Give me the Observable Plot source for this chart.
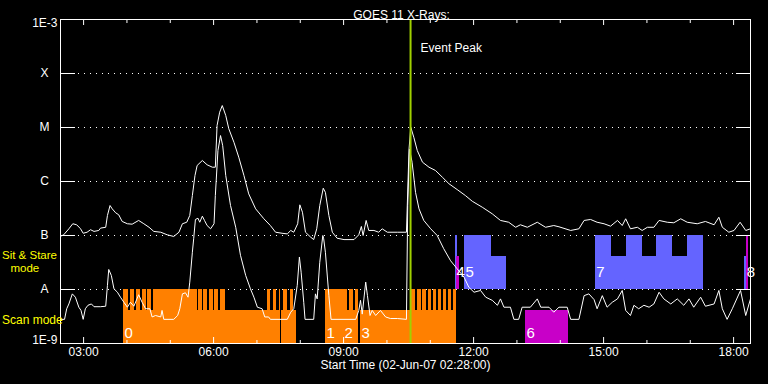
<!DOCTYPE html>
<html><head><meta charset="utf-8">
<script src="https://cdn.jsdelivr.net/npm/d3@7"></script>
<script src="https://cdn.jsdelivr.net/npm/@observablehq/plot@0.6"></script>
<style>html,body{margin:0;padding:0;background:#000;overflow:hidden}</style>
</head><body><div id="chart"></div>
<script>
// ---- data (hours UT, flux W/m^2) ----
const longChannel = [[2.47,9.7e-8],[2.54,1.03e-7],[2.66,1.33e-7],[2.75,1.65e-7],[2.84,1.58e-7],[2.93,1.33e-7],[2.99,1.10e-7],[3.08,1.15e-7],[3.16,1.28e-7],[3.24,1.19e-7],[3.35,1.24e-7],[3.39,1.37e-7],[3.51,1.42e-7],[3.55,2.35e-7],[3.61,3.59e-7],[3.66,3.12e-7],[3.74,2.63e-7],[3.81,2.42e-7],[3.89,1.82e-7],[4.01,1.65e-7],[4.12,1.62e-7],[4.27,1.90e-7],[4.39,1.65e-7],[4.51,1.42e-7],[4.62,1.19e-7],[4.78,1.15e-7],[4.93,1.03e-7],[5.08,9.6e-8],[5.20,1.15e-7],[5.28,1.65e-7],[5.38,1.76e-7],[5.45,2.35e-7],[5.51,5.5e-7],[5.57,1.29e-6],[5.62,1.98e-6],[5.74,2.45e-6],[5.85,2.04e-6],[5.97,1.84e-6],[6.04,1.84e-6],[6.08,1.09e-5],[6.14,1.92e-5],[6.20,2.55e-5],[6.28,1.67e-5],[6.35,9.5e-6],[6.47,5.3e-6],[6.58,2.82e-6],[6.70,1.29e-6],[6.81,5.9e-7],[6.97,3.12e-7],[7.16,2.04e-7],[7.31,1.53e-7],[7.43,1.15e-7],[7.58,1.10e-7],[7.70,1.07e-7],[7.78,1.24e-7],[7.85,1.15e-7],[7.94,1.65e-7],[7.99,3.7e-7],[8.05,2.70e-7],[8.12,1.15e-7],[8.24,9.3e-8],[8.31,8.4e-8],[8.38,1.33e-7],[8.45,3.6e-7],[8.53,7.5e-7],[8.58,6.3e-7],[8.66,2.35e-7],[8.74,1.15e-7],[8.85,8.9e-8],[9.01,8.4e-8],[9.24,8.4e-8],[9.35,1.03e-7],[9.41,1.47e-7],[9.45,1.0e-7],[9.52,1.90e-7],[9.58,1.24e-7],[9.70,1.24e-7],[9.81,1.15e-7],[9.89,1.33e-7],[10.01,1.15e-7],[10.24,1.15e-7],[10.45,1.15e-7],[10.51,4.0e-6],[10.55,1.01e-5],[10.62,6.6e-6],[10.70,3.75e-6],[10.82,2.28e-6],[10.97,1.84e-6],[11.12,1.60e-6],[11.28,1.20e-6],[11.43,9.1e-7],[11.62,7.1e-7],[11.81,5.5e-7],[11.97,4.3e-7],[12.20,3.34e-7],[12.43,2.52e-7],[12.62,1.90e-7],[12.81,1.76e-7],[12.97,1.42e-7],[13.08,1.58e-7],[13.24,1.42e-7],[13.47,1.76e-7],[13.66,1.42e-7],[13.85,1.53e-7],[13.97,1.45e-7],[14.24,1.24e-7],[14.43,1.33e-7],[14.55,1.90e-7],[14.70,1.98e-7],[14.85,1.76e-7],[15.01,1.65e-7],[15.16,1.49e-7],[15.32,1.90e-7],[15.43,1.53e-7],[15.51,2.04e-7],[15.62,1.33e-7],[15.78,1.42e-7],[15.89,1.24e-7],[16.01,1.42e-7],[16.16,1.42e-7],[16.28,1.90e-7],[16.47,1.76e-7],[16.62,1.72e-7],[16.78,2.04e-7],[16.93,1.76e-7],[17.16,1.65e-7],[17.35,1.82e-7],[17.55,1.58e-7],[17.66,2.18e-7],[17.74,1.42e-7],[17.89,1.15e-7],[18.01,1.24e-7],[18.15,1.76e-7],[18.28,1.24e-7],[18.39,1.33e-7]];

const shortChannel = [[2.47,2.8e-9],[2.56,2.8e-9],[2.61,4.4e-9],[2.66,5.4e-9],[2.74,8.3e-9],[2.81,7.2e-9],[2.89,4.7e-9],[2.94,4.1e-9],[2.99,2.8e-9],[3.04,4.4e-9],[3.10,5.1e-9],[3.18,5.4e-9],[3.24,4.8e-9],[3.39,4.8e-9],[3.51,4.9e-9],[3.55,1.19e-8],[3.58,2.35e-8],[3.64,1.82e-8],[3.70,1.03e-8],[3.78,8.9e-9],[3.85,7.2e-9],[3.93,5.8e-9],[4.01,4.7e-9],[4.08,5.8e-9],[4.16,4.9e-9],[4.27,8.0e-9],[4.35,5.8e-9],[4.43,4.4e-9],[4.53,4.4e-9],[4.58,3.1e-9],[4.66,3.3e-9],[4.78,3.1e-9],[4.81,4.1e-9],[4.85,2.8e-9],[5.08,2.8e-9],[5.17,3.3e-9],[5.22,4.4e-9],[5.28,8.3e-9],[5.35,8.7e-9],[5.41,7.2e-9],[5.45,1.37e-8],[5.51,4.9e-8],[5.54,8.7e-8],[5.58,1.98e-7],[5.64,2.09e-7],[5.68,1.76e-7],[5.74,2.28e-7],[5.79,1.90e-7],[5.85,1.53e-7],[5.93,1.33e-7],[6.01,1.65e-7],[6.04,5.5e-7],[6.10,3.75e-6],[6.16,7.1e-6],[6.21,4.6e-6],[6.28,1.29e-6],[6.39,3.6e-7],[6.51,1.42e-7],[6.62,4.3e-8],[6.74,1.82e-8],[6.85,1.03e-8],[6.93,7.2e-9],[7.01,4.7e-9],[7.12,4.4e-9],[7.18,3.1e-9],[7.27,3.1e-9],[7.31,2.8e-9],[7.70,2.8e-9],[7.78,3.8e-9],[7.85,4.4e-9],[7.93,1.19e-8],[7.98,4.0e-8],[8.02,2.09e-8],[8.08,5.8e-9],[8.11,2.8e-9],[8.31,2.8e-9],[8.35,8.3e-9],[8.39,6.7e-9],[8.45,3.2e-8],[8.52,1.0e-7],[8.54,8.7e-8],[8.58,4.9e-8],[8.66,7.7e-9],[8.71,2.8e-9],[9.28,2.8e-9],[9.35,4.1e-9],[9.39,6.3e-9],[9.43,3.5e-9],[9.51,1.37e-8],[9.55,7.7e-9],[9.61,3.3e-9],[9.66,4.1e-9],[9.74,3.3e-9],[9.85,4.1e-9],[9.97,3.1e-9],[10.08,2.9e-9],[10.24,2.9e-9],[10.45,2.8e-9],[10.48,3.6e-7],[10.52,4.0e-6],[10.58,2.28e-6],[10.66,6.3e-7],[10.74,3.12e-7],[10.85,1.90e-7],[11.01,1.33e-7],[11.16,1.0e-7],[11.31,5.7e-8],[11.47,3.4e-8],[11.62,2.42e-8],[11.78,1.69e-8],[11.89,1.10e-8],[12.01,8.9e-9],[12.16,9.6e-9],[12.28,7.2e-9],[12.43,6.3e-9],[12.55,5.1e-9],[12.62,6.7e-9],[12.70,4.7e-9],[12.85,4.7e-9],[12.93,2.8e-9],[13.04,2.8e-9],[13.12,4.7e-9],[13.31,4.7e-9],[13.47,6.7e-9],[13.55,4.7e-9],[13.74,4.7e-9],[13.85,3.8e-9],[13.97,4.7e-9],[14.16,4.7e-9],[14.24,2.8e-9],[14.43,2.8e-9],[14.55,7.7e-9],[14.66,8.3e-9],[14.78,6.5e-9],[14.85,4.4e-9],[14.97,7.7e-9],[15.08,4.7e-9],[15.20,5.8e-9],[15.32,6.7e-9],[15.43,9.6e-9],[15.51,4.1e-9],[15.62,3.3e-9],[15.70,5.1e-9],[15.81,4.4e-9],[15.93,5.1e-9],[16.05,4.7e-9],[16.16,5.4e-9],[16.28,8.9e-9],[16.39,6.7e-9],[16.55,5.4e-9],[16.70,6.7e-9],[16.85,5.1e-9],[16.97,6.7e-9],[17.08,4.7e-9],[17.24,7.2e-9],[17.35,4.9e-9],[17.55,5.4e-9],[17.66,9.6e-9],[17.74,4.4e-9],[17.85,2.8e-9],[17.97,4.4e-9],[18.16,9.6e-9],[18.28,3.3e-9],[18.39,6.7e-9]];

// observing-mode intervals (hours UT)
const scanSpans = [[3.92,7.54],[7.57,7.91],[8.58,9.35],[9.39,11.60]];
const scanTall = [[3.91,4.04],[4.08,4.18],[4.21,4.31],[4.35,4.44],[4.48,4.57],[4.62,5.62],[5.66,5.74],[5.77,5.87],[5.91,5.99],[6.03,6.12],[6.16,6.27],[7.25,7.31],[7.39,7.45],[7.51,7.54],[7.62,7.70],[7.78,7.85],[8.58,9.08],[9.14,9.22],[9.27,9.35],[10.54,10.66],[10.70,10.79],[10.83,10.91],[10.95,11.03],[11.07,11.14],[11.18,11.26],[11.30,11.37],[11.41,11.49],[11.53,11.60]];
const stareSpans = [[11.79,12.76],[14.81,17.30],[18.25,18.30]];
const stareTall = [[11.58,11.62],[11.79,12.41],[14.81,15.18],[15.53,15.89],[16.22,16.58],[16.93,17.30]];
const otherScan = [[13.20,14.18]];
const otherStare = [[11.60,11.67]];
const otherStareTall = [[18.30,18.34]];
const seqNumbers = ["0","1","2","3","4","5","6","7","8"];
const seqTimes = [3.92,8.58,9.00,9.39,11.58,11.79,13.20,14.81,18.28];
const seqModes = ["scan","scan","scan","scan","stare","stare","scan","stare","stare"];

const classLevels = [1e-8,1e-7,1e-6,1e-5,1e-4];
const classNames = ["A","B","C","M","X"];
const topLevel = 1e-3, topName = "1E-3";
const bottomLevel = 1e-9, bottomName = "1E-9";
const majorHours = [3,6,9,12,15,18];
const majorLabels = ["03:00","06:00","09:00","12:00","15:00","18:00"];
const minorHours = [4,5,7,8,10,11,13,14,16,17];
const eventPeak = 10.545;
const xDomain = [2.4667, 18.39];

// ---- styling ----
const ORANGE = "#ff8000", BLUE = "#6464ff", MAGENTA = "#c800c8", GREEN = "#a0d000", YELLOW = "#ffff00";
const SHORT = Math.pow(10, 0.61);
const bandBase = {scan: 1e-9, stare: 1e-8};
const bar = (spans, mode, tall) => spans.map(([a, b]) => ({x1: a, x2: b, y1: bandBase[mode], y2: tall ? bandBase[mode] * 10 : bandBase[mode] * SHORT}));
const H = 324; // frame height in px
const seq = seqNumbers.map((n, i) => ({n, t: seqTimes[i], y: bandBase[seqModes[i]] * Math.pow(10, seqModes[i] === "scan" ? 0.19 : 0.32)}));
const R = (spans, mode, tall, fill) => Plot.rect(bar(spans, mode, tall), {x1: "x1", x2: "x2", y1: "y1", y2: "y2", fill, shapeRendering: "crispEdges"});

const plot = Plot.plot({
  width: 768, height: 384,
  marginLeft: 60, marginRight: 18, marginTop: 19, marginBottom: 41,
  x: {domain: xDomain, axis: null},
  y: {type: "log", domain: [1e-9, 1e-3], axis: null},
  style: {background: "#000", color: "#fff", fontFamily: "Liberation Sans, DejaVu Sans, sans-serif", fontSize: "12px"},
  marks: [
    Plot.ruleY(classLevels, {stroke: "#fff", strokeDasharray: "1,5"}),
    R(scanSpans, "scan", false, ORANGE),
    R(scanTall, "scan", true, ORANGE),
    R(stareSpans, "stare", false, BLUE),
    R(stareTall, "stare", true, BLUE),
    R(otherScan, "scan", false, MAGENTA),
    R(otherStare, "stare", false, MAGENTA),
    R(otherStareTall, "stare", true, MAGENTA),
    Plot.text(seq, {x: "t", y: "y", text: "n", textAnchor: "start", dx: 1, fontSize: 15, fill: "#fff"}),
    Plot.line(longChannel, {x: d => d[0], y: d => d[1], stroke: "#fff", strokeWidth: 1}),
    Plot.line(shortChannel, {x: d => d[0], y: d => d[1], stroke: "#fff", strokeWidth: 1}),
    Plot.ruleX([eventPeak], {stroke: GREEN, strokeWidth: 2}),
    Plot.text(["Event Peak"], {x: eventPeak, frameAnchor: "top", dy: 24, dx: 10, textAnchor: "start", fill: "#fff"}),
    Plot.frame({stroke: "#fff"}),
    Plot.ruleY(classLevels, {stroke: "#fff", insetRight: 690 - 15}),
    Plot.ruleY(classLevels, {stroke: "#fff", insetLeft: 690 - 14}),
    Plot.ruleX(majorHours, {stroke: "#fff", insetTop: H - 6}),
    Plot.ruleX(minorHours, {stroke: "#fff", insetTop: H - 3}),
    Plot.ruleX(majorHours, {stroke: "#fff", insetBottom: H - 6}),
    Plot.ruleX(minorHours, {stroke: "#fff", insetBottom: H - 4}),
    Plot.text(classLevels, {y: d => d, text: (d, i) => classNames[i], frameAnchor: "left", dx: -16, textAnchor: "middle", fill: "#fff"}),
    Plot.text([topLevel], {y: d => d, text: () => topName, frameAnchor: "left", dx: -3, dy: 4, textAnchor: "end", fill: "#fff"}),
    Plot.text([bottomLevel], {y: d => d, text: () => bottomName, frameAnchor: "left", dx: -3, dy: -3, textAnchor: "end", fill: "#fff"}),
    Plot.text(majorHours, {x: d => d, text: (d, i) => majorLabels[i], frameAnchor: "bottom", dy: 12.5, fill: "#fff"}),
    Plot.text(["Start Time (02-Jun-07 02:28:00)"], {frameAnchor: "bottom", dy: 25.5, fill: "#fff"}),
    Plot.text(["GOES 11 X-Rays:"], {frameAnchor: "top", dy: -9, dx: -4, fill: "#fff"}),
    Plot.text(["Sit & Stare"], {frameAnchor: "bottom-left", dx: -58.5, dy: -85, textAnchor: "start", fill: YELLOW, fontSize: 11.5}),
    Plot.text(["mode"], {frameAnchor: "bottom-left", dx: -35.7, dy: -71.5, textAnchor: "middle", fill: YELLOW, fontSize: 11.5}),
    Plot.text(["Scan mode"], {frameAnchor: "bottom-left", dx: -58.5, dy: -19.5, textAnchor: "start", fill: YELLOW, fontSize: 12})
  ]
});
document.getElementById("chart").appendChild(plot);
</script>
</body></html>
